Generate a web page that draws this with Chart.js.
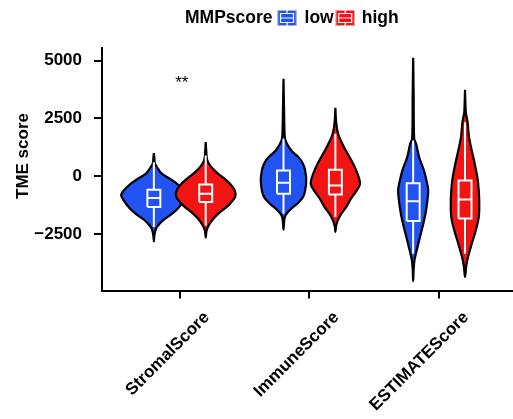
<!DOCTYPE html>
<html>
<head>
<meta charset="utf-8">
<script src="https://cdn.jsdelivr.net/npm/chart.js@4.4.0/dist/chart.umd.min.js"></script>
<style>
  html, body { margin: 0; padding: 0; background: #ffffff; }
  #wrap { width: 513px; height: 419px; }
</style>
</head>
<body>
<div id="wrap"><canvas id="c" width="513" height="419"></canvas></div>
<script>
// ---- data -------------------------------------------------------------
const categories = ['StromalScore', 'ImmuneScore', 'ESTIMATEScore'];
const groups = ['low', 'high'];
const groupColors = ['#2152f2', '#f21313'];
const yTicks = [-2500, 0, 2500, 5000];
const legendTitle = 'MMPscore';
const axisTitle = 'TME score';
const sigLabels = ['**', '', ''];

// violin outlines: score levels and kernel half-widths (category units)
const stromalLowLevels  = [1004, 800, 560, 350, 129, -90, -302, -603, -819, -1108, -1379, -1595, -1896, -2185, -2327, -2550, -2801];
const stromalLowWidths  = [0, 0.004, 0.008, 0.03, 0.059, 0.12, 0.175, 0.232, 0.252, 0.224, 0.185, 0.144, 0.07, 0.023, 0.012, 0.004, 0];
const stromalHighLevels = [1478, 1100, 690, 401, 116, -172, -461, -677, -820, -961, -1250, -1539, -1823, -2112, -2350, -2642];
const stromalHighWidths = [0, 0.004, 0.012, 0.044, 0.096, 0.16, 0.21, 0.228, 0.23, 0.22, 0.175, 0.11, 0.059, 0.023, 0.006, 0];
const immuneLowLevels   = [4211, 3000, 1909, 1552, 1121, 832, 547, 259, -172, -603, -892, -1177, -1392, -1608, -1754, -2000, -2297];
const immuneLowWidths   = [0, 0.004, 0.008, 0.015, 0.06, 0.116, 0.15, 0.167, 0.175, 0.167, 0.15, 0.105, 0.059, 0.023, 0.01, 0.004, 0];
const immuneHighLevels  = [2961, 2414, 1983, 1694, 1263, 832, 401, -30, -315, -603, -961, -1323, -1608, -1896, -2150, -2401];
const immuneHighWidths  = [0, 0.005, 0.015, 0.03, 0.067, 0.11, 0.15, 0.18, 0.19, 0.165, 0.12, 0.083, 0.046, 0.019, 0.005, 0];
const estimateLowLevels = [5116, 3500, 1625, 1409, 832, 259, -315, -603, -1034, -1608, -2185, -2758, -3332, -3620, -4000, -4513];
const estimateLowWidths = [0, 0.004, 0.008, 0.023, 0.046, 0.083, 0.108, 0.116, 0.11, 0.095, 0.072, 0.046, 0.021, 0.01, 0.004, 0];
const estimateHighLevels = [3737, 2771, 2500, 2340, 1694, 1121, 547, -30, -603, -1177, -1754, -2327, -2901, -3478, -3836, -4340];
const estimateHighWidths = [0, 0.006, 0.015, 0.02, 0.031, 0.052, 0.075, 0.095, 0.106, 0.11, 0.106, 0.083, 0.052, 0.023, 0.01, 0];

// box-plot statistics per category
const lowLower   = [-2185, -1608, -3332];
const lowQ1      = [-1323, -746, -1927];
const lowMedian  = [-935, -272, -1065];
const lowQ3      = [-573, 259, -289];
const lowUpper   = [616, 1625, 1552];
const highLower  = [-2112, -1754, -3332];
const highQ1     = [-1108, -776, -1810];
const highMedian = [-746, -388, -991];
const highQ3     = [-345, 289, -172];
const highUpper  = [900, 1840, 2340];

// ---- chart construction -----------------------------------------------
const FONT = "'Liberation Sans', Arial, Helvetica, sans-serif";
const dodge = 0.2;      // half of the dodge width
const boxHalf = 0.05;   // half width of the box-plot boxes

const violinSets = [
  [[stromalLowLevels, stromalLowWidths], [immuneLowLevels, immuneLowWidths], [estimateLowLevels, estimateLowWidths]],
  [[stromalHighLevels, stromalHighWidths], [immuneHighLevels, immuneHighWidths], [estimateHighLevels, estimateHighWidths]]
];
const boxStats = [
  { lower: lowLower, q1: lowQ1, median: lowMedian, q3: lowQ3, upper: lowUpper },
  { lower: highLower, q1: highQ1, median: highMedian, q3: highQ3, upper: highUpper }
];

function violinOutline(center, levels, widths) {
  const left = levels.map((v, i) => ({ x: center - widths[i], y: v }));
  const right = levels.map((v, i) => ({ x: center + widths[i], y: v })).reverse();
  return left.concat(right.slice(1));
}

function boxOutline(center, s, i) {
  const gap = { x: null, y: null };
  return [
    { x: center - boxHalf, y: s.q1[i] }, { x: center + boxHalf, y: s.q1[i] },
    { x: center + boxHalf, y: s.q3[i] }, { x: center - boxHalf, y: s.q3[i] },
    { x: center - boxHalf, y: s.q1[i] },
    gap,
    { x: center - boxHalf, y: s.median[i] }, { x: center + boxHalf, y: s.median[i] },
    gap,
    { x: center, y: s.q3[i] }, { x: center, y: s.upper[i] },
    gap,
    { x: center, y: s.q1[i] }, { x: center, y: s.lower[i] }
  ];
}

const datasets = [];
groups.forEach((g, gi) => {
  categories.forEach((cat, ci) => {
    const center = ci + 1 + (gi === 0 ? -dodge : dodge);
    const [levels, widths] = violinSets[gi][ci];
    datasets.push({
      label: g + ' ' + cat,
      data: violinOutline(center, levels, widths),
      fill: 'shape',
      backgroundColor: groupColors[gi],
      borderColor: '#000000',
      borderWidth: 2.2,
      borderJoinStyle: 'round',
      tension: 0.35,
      pointRadius: 0,
      order: 3 - gi
    });
  });
});
groups.forEach((g, gi) => {
  categories.forEach((cat, ci) => {
    const center = ci + 1 + (gi === 0 ? -dodge : dodge);
    datasets.push({
      label: g + ' box ' + cat,
      data: boxOutline(center, boxStats[gi], ci),
      fill: false,
      borderColor: '#ffffff',
      borderWidth: 2,
      borderJoinStyle: 'miter',
      borderCapStyle: 'butt',
      tension: 0,
      spanGaps: false,
      pointRadius: 0,
      order: 0
    });
  });
});

function minusFmt(v) { return v < 0 ? '\u2212' + Math.abs(v) : String(v); }

const decorPlugin = {
  id: 'decor',
  afterDraw(chart) {
    const ctx = chart.ctx;
    const xs = chart.scales.x, ys = chart.scales.y;
    ctx.save();
    ctx.fillStyle = '#000000';

    // y axis title
    ctx.save();
    ctx.translate(28, 156);
    ctx.rotate(-Math.PI / 2);
    ctx.font = 'bold 17px ' + FONT;
    ctx.textAlign = 'center';
    ctx.textBaseline = 'alphabetic';
    ctx.fillText(axisTitle, 0, 0);
    ctx.restore();

    // significance marks
    ctx.font = '17px ' + FONT;
    ctx.textAlign = 'center';
    ctx.textBaseline = 'alphabetic';
    sigLabels.forEach((s, i) => {
      if (s) ctx.fillText(s, xs.getPixelForValue(i + 1) + 2, ys.getPixelForValue(3800));
    });

    // legend
    ctx.font = 'bold 17.5px ' + FONT;
    ctx.textAlign = 'left';
    const base = 23;
    let x = 185;
    ctx.fillText(legendTitle, x, base);
    x += ctx.measureText(legendTitle).width + 5;
    const gaps = [[8, 2], [7, 0]];
    groups.forEach((g, gi) => {
      const kw = 19, kh = 16, ky = 10;
      ctx.fillStyle = groupColors[gi];
      ctx.fillRect(x, ky, kw, kh);
      ctx.strokeStyle = '#c8c8c8';
      ctx.lineWidth = 0.8;
      ctx.strokeRect(x + 0.4, ky + 0.4, kw - 0.8, kh - 0.8);
      ctx.strokeStyle = '#ffffff';
      ctx.lineWidth = 1.2;
      const cx = x + kw / 2;
      ctx.beginPath();
      ctx.moveTo(cx, ky); ctx.lineTo(cx, ky + 3.5);
      ctx.moveTo(cx, ky + kh - 3.5); ctx.lineTo(cx, ky + kh);
      ctx.rect(x + 3, ky + 3.5, kw - 6, kh - 7);
      ctx.moveTo(x + 3, ky + kh / 2); ctx.lineTo(x + kw - 3, ky + kh / 2);
      ctx.stroke();
      x += kw + gaps[gi][0];
      ctx.fillStyle = '#000000';
      ctx.fillText(g, x, base);
      x += ctx.measureText(g).width + gaps[gi][1];
    });
    ctx.restore();
  }
};

new Chart(document.getElementById('c'), {
  type: 'line',
  data: { datasets },
  plugins: [decorPlugin],
  options: {
    responsive: false,
    animation: false,
    devicePixelRatio: 1,
    layout: { padding: { top: 48, left: 0, right: 0, bottom: 0 } },
    plugins: { legend: { display: false }, tooltip: { enabled: false } },
    scales: {
      x: {
        type: 'linear',
        min: 0.4,
        max: 3.57,
        afterFit(scale) { scale.height = 128.5; },
        afterBuildTicks(scale) { scale.ticks = categories.map((c, i) => ({ value: i + 1 })); },
        grid: { display: true, drawOnChartArea: false, drawTicks: true, tickLength: 8, color: '#000000', lineWidth: 2 },
        border: { display: true, color: '#000000', width: 2 },
        ticks: {
          autoSkip: false,
          minRotation: 45,
          maxRotation: 45,
          labelOffset: 27,
          padding: 9,
          color: '#000000',
          font: { family: FONT, size: 17, weight: 'bold' },
          callback: (v) => categories[v - 1] || ''
        }
      },
      y: {
        type: 'linear',
        min: -4920,
        max: 5540,
        afterFit(scale) { scale.width = 102; },
        afterBuildTicks(scale) { scale.ticks = yTicks.map(v => ({ value: v })); },
        grid: { display: true, drawOnChartArea: false, drawTicks: true, tickLength: 8, color: '#000000', lineWidth: 2 },
        border: { display: true, color: '#000000', width: 2 },
        ticks: {
          padding: 12,
          color: '#000000',
          font: { family: FONT, size: 17, weight: 'bold' },
          callback: (v) => minusFmt(v)
        }
      }
    }
  }
});
</script>
</body>
</html>
